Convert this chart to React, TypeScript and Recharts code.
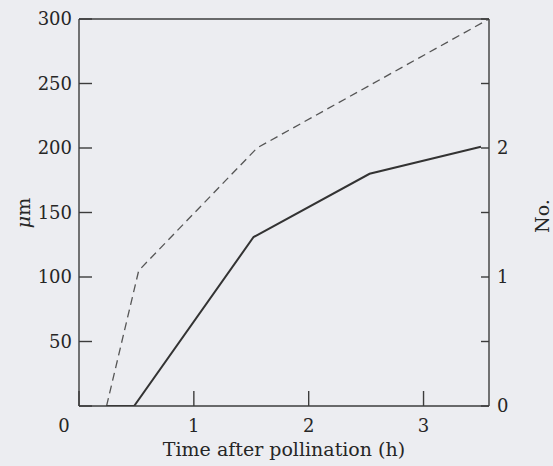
import React from "react";
import {
  LineChart,
  Line,
  XAxis,
  YAxis,
  ReferenceLine,
  Label,
} from "recharts";

// hours after pollination / values
const dashedTimes = [0.24, 0.52, 1.55, 3.57];
const dashedValues = [0, 105, 200, 300];

const solidTimes = [0.24, 0.48, 1.52, 2.53, 3.5];
const solidValues = [0, 0, 131, 180, 201];

const xTicks = [0, 1, 2, 3];
const leftTicks = [0, 50, 100, 150, 200, 250, 300];
const rightTicks = [0, 0.5, 1, 1.5, 2, 2.5, 3];

const dashedData = dashedTimes.map((t, i) => ({ t, v: dashedValues[i] }));
const solidData = solidTimes.map((t, i) => ({ t, v: solidValues[i] }));

const font = "'DejaVu Serif', serif";
const ink = "#3c3c3c";
const textInk = "#262626";
const axisStyle = { stroke: ink, strokeWidth: 1.4 };

const XTick = (props: any) => {
  const { x, y, payload } = props;
  const dx = payload.value === 0 ? -15 : 0;
  return (
    <text
      x={x + dx}
      y={y}
      dy="0.71em"
      textAnchor="middle"
      fill={textInk}
      fontFamily={font}
      fontSize={18}
    >
      {payload.value}
    </text>
  );
};

export default function App() {
  return (
    <div
      style={{
        position: "absolute",
        left: 0,
        top: 0,
        width: 553,
        height: 466,
        background: "#ecedf1",
      }}
    >
      <LineChart
        width={553}
        height={466}
        margin={{ top: 19, right: 0, bottom: 0, left: 0 }}
      >
        <XAxis
          dataKey="t"
          type="number"
          domain={[0, 3.57]}
          ticks={xTicks}
          height={60}
          axisLine={axisStyle}
          tickLine={axisStyle}
          tickSize={-15}
          tickMargin={28}
          tick={<XTick />}
          allowDataOverflow
        >
          <Label
            value="Time after pollination (h)"
            position="insideBottom"
            offset={10}
            fill={textInk}
            fontFamily={font}
            fontSize={19}
          />
        </XAxis>
        <YAxis
          yAxisId="um"
          type="number"
          domain={[0, 300]}
          ticks={leftTicks}
          width={79}
          axisLine={axisStyle}
          tickLine={axisStyle}
          tickSize={-13}
          tickMargin={20}
          tickFormatter={(v) => (v === 0 ? "" : String(v))}
          tick={{ fill: textInk, fontFamily: font, fontSize: 18 }}
          allowDataOverflow
        >
          <Label
            content={() => (
              <text
                x={23}
                y={213}
                transform="rotate(-90 23 213)"
                textAnchor="middle"
                dominantBaseline="central"
                fill={textInk}
                fontFamily={font}
                fontSize={19}
              >
                <tspan fontStyle="italic">μ</tspan>m
              </text>
            )}
          />
        </YAxis>
        <YAxis
          yAxisId="no"
          orientation="right"
          type="number"
          domain={[0, 3]}
          ticks={rightTicks}
          width={64}
          axisLine={axisStyle}
          tickLine={axisStyle}
          tickSize={-8}
          tickMargin={16}
          tickFormatter={(v) => (Number.isInteger(v) && v < 3 ? String(v) : "")}
          tick={{ fill: textInk, fontFamily: font, fontSize: 18 }}
          allowDataOverflow
        >
          <Label
            content={() => (
              <text
                x={542}
                y={216}
                transform="rotate(-90 542 216)"
                textAnchor="middle"
                dominantBaseline="central"
                fill={textInk}
                fontFamily={font}
                fontSize={19}
              >
                No.
              </text>
            )}
          />
        </YAxis>
        <ReferenceLine yAxisId="um" y={300} stroke={ink} strokeWidth={1.4} />
        <Line
          yAxisId="um"
          data={dashedData}
          dataKey="v"
          type="linear"
          stroke="#555"
          strokeWidth={1.3}
          strokeDasharray="8 5"
          dot={false}
          isAnimationActive={false}
        />
        <Line
          yAxisId="um"
          data={solidData}
          dataKey="v"
          type="linear"
          stroke="#333"
          strokeWidth={2}
          dot={false}
          isAnimationActive={false}
        />
      </LineChart>
    </div>
  );
}
